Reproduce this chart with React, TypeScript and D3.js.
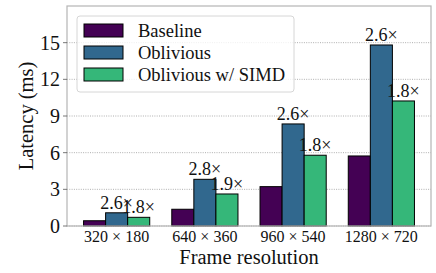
import { useMemo } from "react";
import * as d3 from "d3";

const categories = ["320 × 180", "640 × 360", "960 × 540", "1280 × 720"];
const seriesNames = ["Baseline", "Oblivious", "Oblivious w/ SIMD"];
const baseline = [0.43, 1.37, 3.22, 5.73];
const oblivious = [1.08, 3.82, 8.35, 14.81];
const obliviousSimd = [0.71, 2.62, 5.79, 10.23];
const obliviousRatio = ["2.6×", "2.8×", "2.6×", "2.6×"];
const simdRatio = ["1.8×", "1.9×", "1.8×", "1.8×"];
const yTicks = [0, 3, 6, 9, 12, 15];

const colors = ["#440154", "#31688e", "#35b779"];
const font = "Liberation Serif";

const width = 436;
const height = 273;
const margin = { left: 67, right: 5, top: 6, bottom: 47 };

export default function App() {
    const barWidth = 0.25;

    const x = useMemo(
        () => d3.scaleLinear().domain([-0.5625, 3.5625]).range([margin.left, width - margin.right]),
        []
    );
    const y = useMemo(
        () => d3.scaleLinear().domain([0, 18]).range([height - margin.bottom, margin.top]),
        []
    );

    const series = [baseline, oblivious, obliviousSimd];
    const labels = [null, obliviousRatio, simdRatio];
    const bw = x(barWidth) - x(0);

    return (
        <svg width={width} height={height} style={{ position: "absolute", left: 0, top: 0 }}>
            <g fontFamily={font}>
                {/* grid */}
                {yTicks.map((t) => (
                    <line
                        key={"g" + t}
                        x1={x.range()[0]}
                        x2={x.range()[1]}
                        y1={y(t)}
                        y2={y(t)}
                        stroke="#9a9a9a"
                        strokeWidth={0.8}
                        strokeDasharray="1,1.3"
                    />
                ))}

                {/* bars */}
                {series.map((vals, s) =>
                    vals.map((v, i) => {
                        const cx = x(i + (s - 1) * barWidth);
                        return (
                            <rect
                                key={s + "-" + i}
                                x={cx - bw / 2}
                                y={y(v)}
                                width={bw}
                                height={y(0) - y(v)}
                                fill={colors[s]}
                                stroke="#000"
                                strokeWidth={1}
                            />
                        );
                    })
                )}

                {/* ratio labels */}
                {series.map((vals, s) =>
                    labels[s]
                        ? vals.map((v, i) => (
                              <text
                                  key={"l" + s + "-" + i}
                                  x={x(i + (s - 1) * barWidth)}
                                  y={y(v) - 4}
                                  textAnchor="middle"
                                  fontSize={18}
                                  fill="#111"
                              >
                                  {labels[s]![i]}
                              </text>
                          ))
                        : null
                )}

                {/* frame */}
                <rect
                    x={x.range()[0]}
                    y={y.range()[1]}
                    width={x.range()[1] - x.range()[0]}
                    height={y.range()[0] - y.range()[1]}
                    fill="none"
                    stroke="#b5b5b5"
                    strokeWidth={1.2}
                />

                {/* y ticks */}
                {yTicks.map((t) => (
                    <g key={"yt" + t}>
                        <line x1={x.range()[0] - 4} x2={x.range()[0]} y1={y(t)} y2={y(t)} stroke="#555" strokeWidth={0.8} />
                        <text x={x.range()[0] - 7} y={y(t)} dy="0.35em" textAnchor="end" fontSize={20} fill="#111">
                            {t}
                        </text>
                    </g>
                ))}

                {/* x ticks */}
                {categories.map((c, i) => (
                    <text key={c} x={x(i)} y={242} textAnchor="middle" fontSize={16} fill="#111">
                        {c}
                    </text>
                ))}

                <text x={(x.range()[0] + x.range()[1]) / 2} y={264} textAnchor="middle" fontSize={20.5} fill="#111">
                    Frame resolution
                </text>
                <text
                    transform={`translate(32.5, ${(y.range()[0] + y.range()[1]) / 2}) rotate(-90)`}
                    textAnchor="middle"
                    fontSize={20.5}
                    fill="#111"
                >
                    Latency (ms)
                </text>

                {/* legend */}
                <rect x={77} y={16} width={217} height={76} rx={3} fill="#fff" fillOpacity={0.8} stroke="#d6d6d6" strokeWidth={1} />
                {seriesNames.map((n, i) => (
                    <g key={n} transform={`translate(0, ${i * 22})`}>
                        <rect x={84} y={24} width={39} height={13} fill={colors[i]} stroke="#000" strokeWidth={1} />
                        <text x={138} y={37} fontSize={18.5} fill="#111">
                            {n}
                        </text>
                    </g>
                ))}
            </g>
        </svg>
    );
}
